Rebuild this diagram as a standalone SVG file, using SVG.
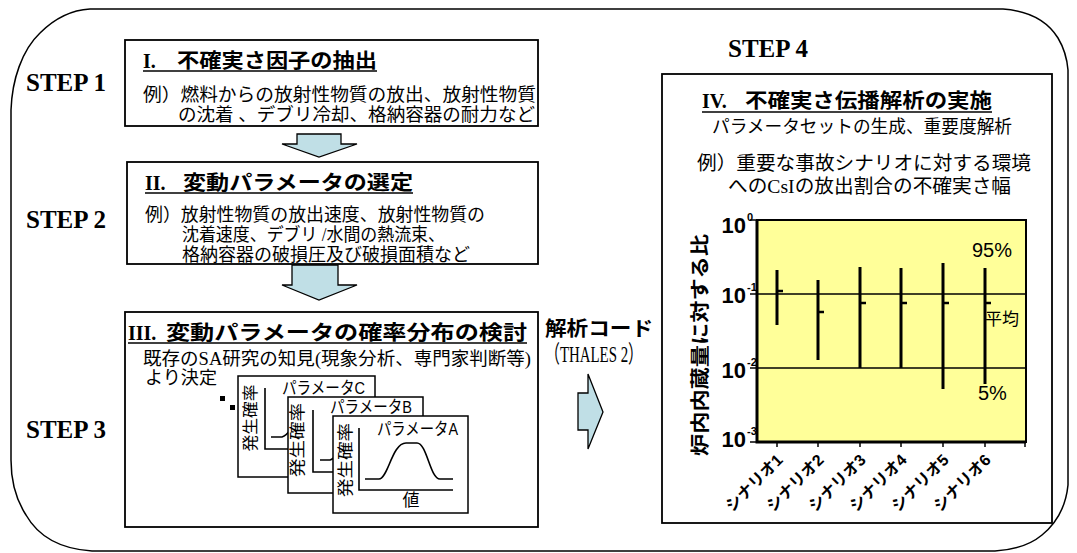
<svg xmlns="http://www.w3.org/2000/svg" width="1077" height="553" viewBox="0 0 1077 553">
<style>
.frame{fill:none;stroke:#000;stroke-width:1.5}
.box{fill:#fff;stroke:#000;stroke-width:1.8}
.card{fill:#fff;stroke:#000;stroke-width:1.5}
.arr{fill:#c0dfe6;stroke:#000;stroke-width:1.3}
.mj{font-family:"Liberation Serif","Noto Sans CJK JP",serif;font-size:18px;fill:#000}
.ttl{font-family:"Liberation Serif","Noto Sans CJK JP",serif;font-size:20px;font-weight:bold;fill:#000}
.step{font-family:"Liberation Serif",serif;font-size:25px;font-weight:bold;fill:#000}
.go{font-family:"Liberation Sans","Noto Sans CJK JP",sans-serif;fill:#000}
.ul{stroke:#000;stroke-width:1.5}
.ax{fill:none;stroke:#000;stroke-width:1.6}
.bar{stroke:#000;stroke-width:3}
.mean{stroke:#000;stroke-width:2.5}
</style>

<path class="frame" d="M90,9 L1003,9 C1030,11 1048,22 1058,38 C1064,48 1067,58 1068,70 L1068,485 C1066,505 1058,522 1042,535 C1030,545 1012,550 995,551 L92,551 C60,549 38,536 26,515 C15,498 11,480 11,460 L11,110 C12,80 22,50 40,33 C55,18 72,10 90,9 Z"/>

<g id="step-labels">
<text class="step" x="26" y="91">STEP 1</text>
<text class="step" x="26" y="228">STEP 2</text>
<text class="step" x="26" y="438">STEP 3</text>
<text class="step" x="728" y="57">STEP 4</text>
</g>

<g id="box1">
<rect class="box" x="125" y="40" width="413" height="86"/>
<text class="ttl" x="143" y="68">I.</text>
<text class="ttl" x="177" y="68" textLength="200" lengthAdjust="spacingAndGlyphs">不確実さ因子の抽出</text>
<line class="ul" x1="143" y1="71" x2="377" y2="71"/>
<text class="mj" x="143" y="101" textLength="393" lengthAdjust="spacingAndGlyphs">例）燃料からの放射性物質の放出、放射性物質</text>
<text class="mj" x="178" y="121" textLength="357" lengthAdjust="spacingAndGlyphs">の沈着 、デブリ冷却、格納容器の耐力など</text>
</g>

<g id="box2">
<rect class="box" x="127" y="162" width="411" height="102"/>
<text class="ttl" x="145" y="190">II.</text>
<text class="ttl" x="183" y="190" textLength="230" lengthAdjust="spacingAndGlyphs">変動パラメータの選定</text>
<line class="ul" x1="145" y1="193" x2="413" y2="193"/>
<text class="mj" x="145" y="221" textLength="340" lengthAdjust="spacingAndGlyphs">例）放射性物質の放出速度、放射性物質の</text>
<text class="mj" x="182" y="241" textLength="263" lengthAdjust="spacingAndGlyphs">沈着速度、デブリ /水間の熱流束、</text>
<text class="mj" x="182" y="261" textLength="288" lengthAdjust="spacingAndGlyphs">格納容器の破損圧及び破損面積など</text>
</g>

<g id="box3">
<rect class="box" x="125" y="312" width="413" height="215"/>
<text class="ttl" x="128" y="340">III.</text>
<text class="ttl" x="166" y="340" textLength="361" lengthAdjust="spacingAndGlyphs">変動パラメータの確率分布の検討</text>
<line class="ul" x1="128" y1="343" x2="527" y2="343"/>
<text class="mj" x="143" y="365" textLength="388" lengthAdjust="spacingAndGlyphs">既存のSA研究の知見(現象分析、専門家判断等)</text>
<text class="mj" x="145" y="384" textLength="72" lengthAdjust="spacingAndGlyphs">より決定</text>
<rect x="220" y="396" width="5" height="5" fill="#000"/>
<rect x="230" y="405" width="5" height="5" fill="#000"/>
</g>

<g id="cardC">
<rect class="card" x="238" y="376" width="137" height="101"/>
<text class="go" x="282" y="394" font-size="17" textLength="83" lengthAdjust="spacingAndGlyphs">パラメータC</text>
<text class="go" font-size="16" text-anchor="middle" dominant-baseline="central" transform="translate(250,418) rotate(-90)" textLength="67" lengthAdjust="spacingAndGlyphs">発生確率</text>
<polyline class="ax" points="265,388 265,449 292,449"/>
<path class="ax" d="M271,437 L282,437 Q286,436 292,428"/>
</g>

<g id="cardB">
<rect class="card" x="288" y="397" width="135" height="96"/>
<text class="go" x="330" y="413" font-size="17" textLength="82" lengthAdjust="spacingAndGlyphs">パラメータB</text>
<text class="go" font-size="16" text-anchor="middle" dominant-baseline="central" transform="translate(297,440) rotate(-90)" textLength="74" lengthAdjust="spacingAndGlyphs">発生確率</text>
<polyline class="ax" points="313,410 313,472 338,472"/>
<path class="ax" d="M320,460 L330,460 Q334,459 338,452"/>
</g>

<g id="cardA">
<rect class="card" x="333" y="416" width="135" height="97"/>
<text class="go" x="377" y="435" font-size="17" textLength="81" lengthAdjust="spacingAndGlyphs">パラメータA</text>
<text class="go" font-size="16" text-anchor="middle" dominant-baseline="central" transform="translate(345,460) rotate(-90)" textLength="74" lengthAdjust="spacingAndGlyphs">発生確率</text>
<polyline class="ax" points="359,428 359,490 453,490"/>
<path class="ax" d="M365,479 L379,479 C388,479 392,443 406,443 L417,443 C427,443 430,479 440,479 L453,479"/>
<text class="go" x="411" y="506" font-size="17" text-anchor="middle">値</text>
</g>

<g id="connectors">
<polygon class="arr" points="297,134 341,134 341,144 357,144 319,157 282,144 297,144"/>
<polygon class="arr" points="292,265 338,265 338,285 357,285 319,300 282,285 292,285"/>
<polygon class="arr" points="578,393 588,393 588,374 603,412 588,449 588,430 578,430"/>
</g>

<g id="code-label">
<text class="ttl" x="545" y="336" textLength="108" lengthAdjust="spacingAndGlyphs">解析コード</text>
<text x="545" y="362" font-family="Liberation Serif, Noto Sans CJK JP, serif" font-size="24" fill="#000" textLength="98" lengthAdjust="spacingAndGlyphs">（THALES 2）</text>
</g>

<g id="box4">
<rect class="box" x="662" y="74" width="390" height="449"/>
<text class="ttl" x="702" y="108">IV.</text>
<text class="ttl" x="745" y="108" textLength="247" lengthAdjust="spacingAndGlyphs">不確実さ伝播解析の実施</text>
<line class="ul" x1="702" y1="112" x2="992" y2="112"/>
<text class="mj" x="712" y="133" textLength="300" lengthAdjust="spacingAndGlyphs">パラメータセットの生成、重要度解析</text>
<text class="mj" x="697" y="170" style="font-size:19px" textLength="334" lengthAdjust="spacingAndGlyphs">例）重要な事故シナリオに対する環境</text>
<text class="mj" x="728" y="193" style="font-size:19px" textLength="283" lengthAdjust="spacingAndGlyphs">へのCsIの放出割合の不確実さ幅</text>
</g>

<g id="chart">
<rect x="757" y="220" width="269" height="222" fill="#ffff99" stroke="#000" stroke-width="2"/>
<line x1="757" y1="294" x2="1026" y2="294" stroke="#000" stroke-width="1.3"/>
<line x1="757" y1="368" x2="1026" y2="368" stroke="#000" stroke-width="1.3"/>
<polyline points="757,220 757,442 1026,442" fill="none" stroke="#000" stroke-width="3"/>
<g stroke="#000" stroke-width="1.5">
<line x1="750" y1="220" x2="757" y2="220"/>
<line x1="750" y1="294" x2="757" y2="294"/>
<line x1="750" y1="368" x2="757" y2="368"/>
<line x1="750" y1="442" x2="757" y2="442"/>
<line x1="777" y1="442" x2="777" y2="447"/>
<line x1="818" y1="442" x2="818" y2="447"/>
<line x1="860" y1="442" x2="860" y2="447"/>
<line x1="901" y1="442" x2="901" y2="447"/>
<line x1="943" y1="442" x2="943" y2="447"/>
<line x1="985" y1="442" x2="985" y2="447"/>
<line x1="1025" y1="442" x2="1025" y2="447"/>
</g>
<line class="bar" x1="777" y1="270" x2="777" y2="325"/>
<line class="bar" x1="818" y1="280" x2="818" y2="360"/>
<line class="bar" x1="860" y1="267" x2="860" y2="368"/>
<line class="bar" x1="901" y1="268" x2="901" y2="368"/>
<line class="bar" x1="943" y1="263" x2="943" y2="389"/>
<line class="bar" x1="985" y1="268" x2="985" y2="384"/>
<line class="mean" x1="777" y1="291" x2="783" y2="291"/>
<line class="mean" x1="818" y1="312" x2="824" y2="312"/>
<line class="mean" x1="860" y1="303" x2="866" y2="303"/>
<line class="mean" x1="901" y1="303" x2="907" y2="303"/>
<line class="mean" x1="943" y1="303" x2="949" y2="303"/>
<line class="mean" x1="985" y1="303" x2="991" y2="303"/>
<g class="go" font-weight="bold">
<text x="746" y="233" font-size="22" text-anchor="end">10</text>
<text x="747" y="221" font-size="11">0</text>
<text x="746" y="303" font-size="22" text-anchor="end">10</text>
<text x="747" y="291" font-size="11">-1</text>
<text x="746" y="378" font-size="22" text-anchor="end">10</text>
<text x="747" y="366" font-size="11">-2</text>
<text x="746" y="447" font-size="22" text-anchor="end">10</text>
<text x="747" y="435" font-size="11">-3</text>
</g>
<text class="go" x="972" y="257" font-size="20">95%</text>
<text class="go" x="978" y="400" font-size="20">5%</text>
<text class="go" x="985" y="325" font-size="17">平均</text>
<text class="go" font-size="19" font-weight="bold" text-anchor="middle" dominant-baseline="central" transform="translate(700,345) rotate(-90)" textLength="222" lengthAdjust="spacingAndGlyphs">炉内内蔵量に対する比</text>
<g class="go" font-size="16" font-weight="bold" text-anchor="end" dominant-baseline="central">
<text transform="translate(780,457) rotate(-45)">シナリオ1</text>
<text transform="translate(821,457) rotate(-45)">シナリオ2</text>
<text transform="translate(863,457) rotate(-45)">シナリオ3</text>
<text transform="translate(904,457) rotate(-45)">シナリオ4</text>
<text transform="translate(946,457) rotate(-45)">シナリオ5</text>
<text transform="translate(988,457) rotate(-45)">シナリオ6</text>
</g>
</g>
</svg>
